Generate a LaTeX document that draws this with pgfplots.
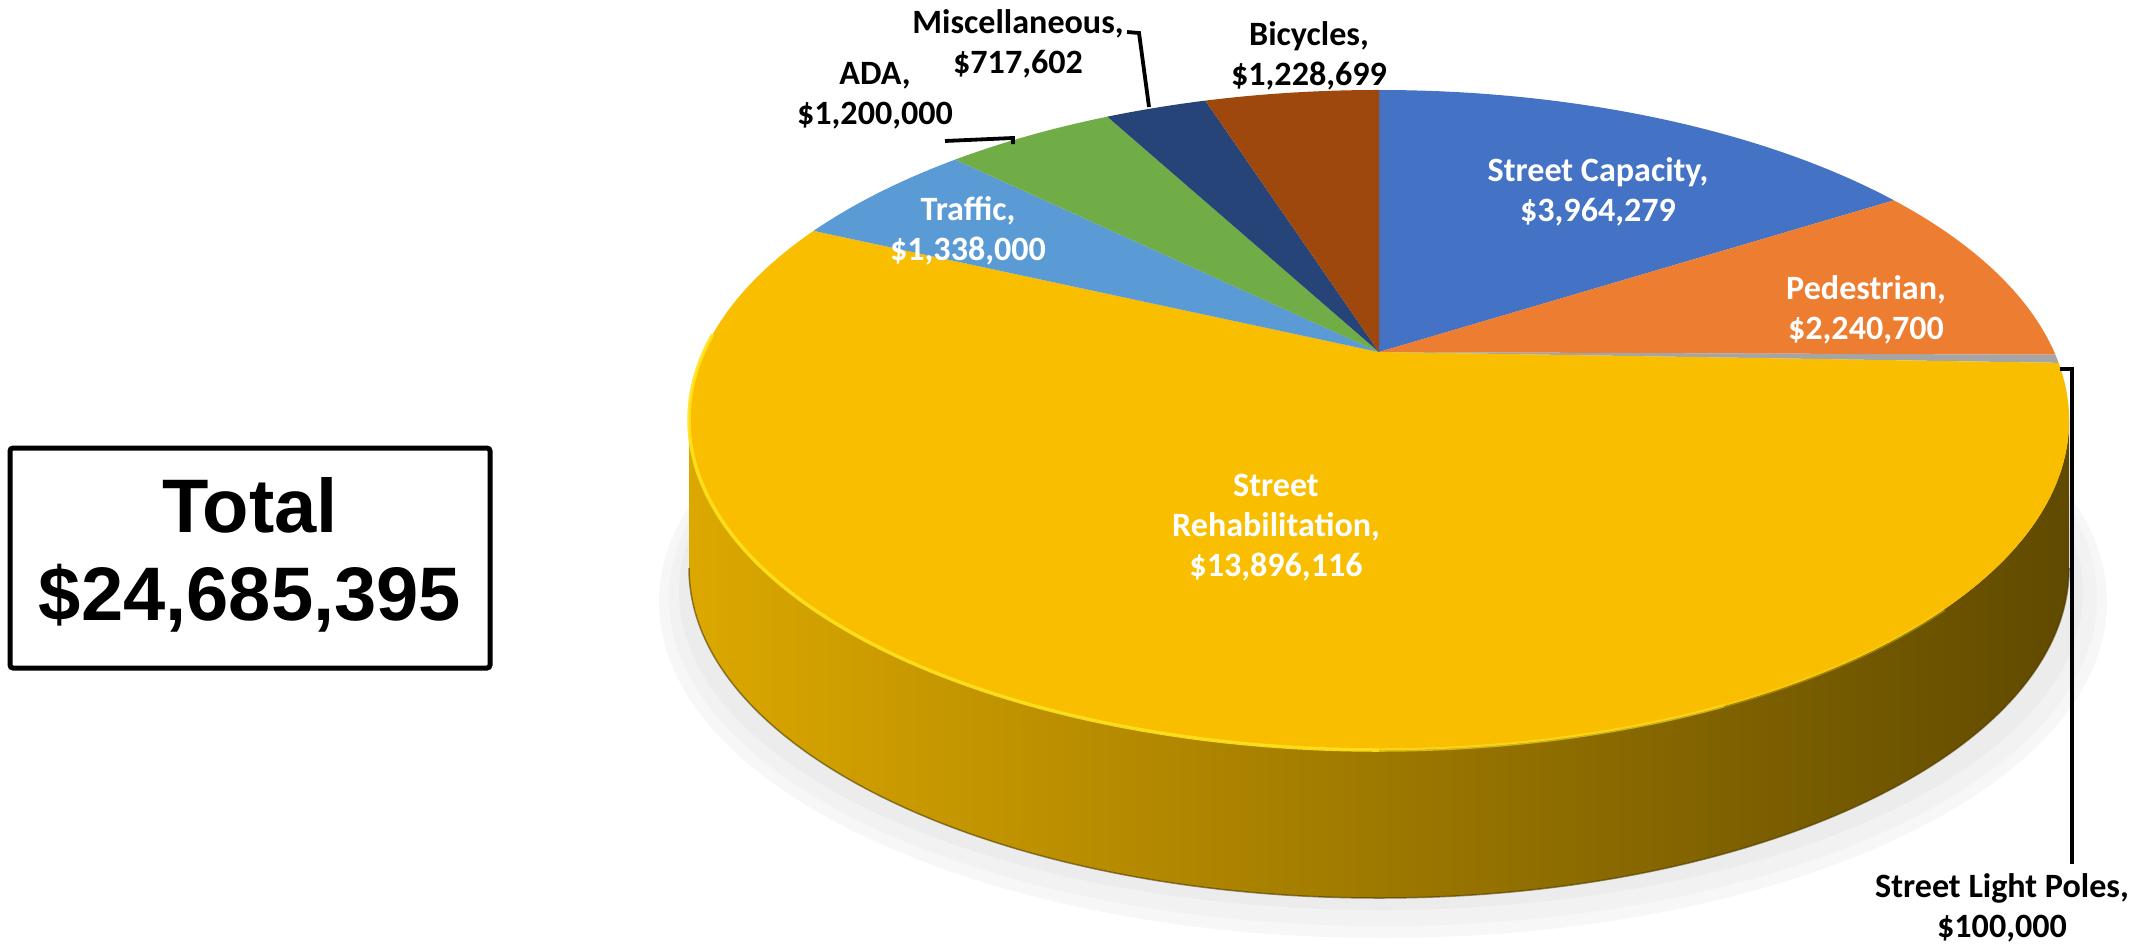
\documentclass[border=0pt]{standalone}
\usepackage{fontspec}
\setmainfont{Carlito}
\newfontfamily\arialfont{Liberation Sans}
\usepackage{pgfplots}
\usepackage{pgfplotstable}
\pgfplotsset{compat=1.18}

% slices, clockwise from 12 o'clock
\pgfplotstableread{
value
3964279
2240700
100000
13896116
1338000
1200000
717602
1228699
}\piedata

\definecolor{pie0}{HTML}{4472C4}
\definecolor{pie1}{HTML}{ED7D31}
\definecolor{pie2}{HTML}{A5A5A5}
\definecolor{pie3}{HTML}{F9BE00}
\definecolor{pie4}{HTML}{5B9BD5}
\definecolor{pie5}{HTML}{70AD47}
\definecolor{pie6}{HTML}{264478}
\definecolor{pie7}{HTML}{9E480E}
\definecolor{sideL}{RGB}{220,168,0}
\definecolor{sideM}{RGB}{158,120,0}
\definecolor{sideR}{RGB}{96,74,0}
\definecolor{rim}{RGB}{255,226,30}

% tilted pie, axis units = pixels
\def\cx{1379}\def\cy{528}\def\rx{690}\def\ry{330}\def\pk{0.206}
\edef\apy{\fpeval{round(\cy+\ry*\pk,2)}}

% cumulative angles (l3fp, the values are large)
\def\pietotal{0}
\pgfplotsforeachungrouped \i in {0,...,7}{%
  \pgfplotstablegetelem{\i}{value}\of\piedata
  \edef\pietotal{\fpeval{\pietotal+\pgfplotsretval}}}
\def\piecum{0}
\pgfplotsforeachungrouped \i in {0,...,7}{%
  \pgfplotstablegetelem{\i}{value}\of\piedata
  \edef\piecum{\fpeval{\piecum+\pgfplotsretval}}%
  \expandafter\xdef\csname th\the\numexpr\i+1\relax\endcsname{\fpeval{round(\piecum/\pietotal*360,4)}}}
\expandafter\def\csname th0\endcsname{0}

% slice boundaries -> parametric angle on the drawn ellipse
\pgfplotsforeachungrouped \j in {0,...,8}{%
  \edef\thv{\csname th\j\endcsname}%
  \edef\ct{\fpeval{cosd(\thv)}}%
  \edef\st{\fpeval{sind(\thv)}}%
  \edef\tv{\fpeval{atand((\ct+\pk)/(1+\pk*\ct), sqrt(1-\pk*\pk)*\st/(1+\pk*\ct))}}%
  \expandafter\xdef\csname tt\j\endcsname{\fpeval{round(\tv>90.001 ? \tv-360 : \tv, 4)}}}
\expandafter\def\csname tt0\endcsname{90}
\expandafter\def\csname tt8\endcsname{-270}
\pgfplotsforeachungrouped \j in {0,...,8}{%
  \edef\tv{\csname tt\j\endcsname}%
  \expandafter\xdef\csname px\j\endcsname{\fpeval{round(\cx+\rx*cosd(\tv),3)}}%
  \expandafter\xdef\csname py\j\endcsname{\fpeval{round(\cy+\ry*sind(\tv),3)}}}

\tikzset{
  lbl/.style={align=center, font={\fontsize{9.7}{11.4}\selectfont\bfseries}},
  inlbl/.style={lbl, text=white},
  lead/.style={line width=0.38mm, black},
  rimarc/.style={rim, line width=0.35mm}
}

\begin{document}
\begin{tikzpicture}
\begin{axis}[
  x=0.1mm, y=0.1mm,
  xmin=0, xmax=2141, ymin=0, ymax=948,
  hide axis, clip=false, scale only axis
]
\path (axis cs:0,0) coordinate (bl) (axis cs:2141,948) coordinate (tr);

% soft shadow
\fill[gray!6] (axis cs:1383,346) ellipse [x radius=72.4mm, y radius=33.6mm];
\fill[gray!10] (axis cs:1383,350) ellipse [x radius=71.4mm, y radius=32.8mm];
\fill[gray!15] (axis cs:1381,356) ellipse [x radius=70.2mm, y radius=31.8mm];

% side wall (front half is all Street Rehabilitation)
\shade[left color=sideL, middle color=sideM, right color=sideR]
  (axis cs:689,528) arc [start angle=180, end angle=360, x radius=69mm, y radius=33mm]
  -- (axis cs:2069,380) arc [start angle=0, end angle=-180, x radius=69mm, y radius=33mm]
  -- cycle;
\draw[sideR!80!black, line width=0.15mm, opacity=0.6]
  (axis cs:689,380) arc [start angle=180, end angle=360, x radius=69mm, y radius=33mm];

% top face slices
\pgfplotsinvokeforeach{0,...,7}{
  \edef\temp{\noexpand\fill[pie#1] (axis cs:\cx,\apy)
    -- (axis cs:\csname px#1\endcsname,\csname py#1\endcsname)
    arc [start angle=\csname tt#1\endcsname,
         end angle=\csname tt\the\numexpr#1+1\relax\endcsname,
         x radius=69mm, y radius=33mm] -- cycle;}
  \temp
}

% rim highlight, fading to the right
\draw[rimarc, opacity=0.9]
  (axis cs:712.5,613.4) arc [start angle=165, end angle=270, x radius=69mm, y radius=33mm];
\draw[rimarc, opacity=0.6]
  (axis cs:1379,198) arc [start angle=270, end angle=300, x radius=69mm, y radius=33mm];
\draw[rimarc, opacity=0.3]
  (axis cs:1724,242.2) arc [start angle=300, end angle=325, x radius=69mm, y radius=33mm];

% leader lines
\draw[lead] (axis cs:1127,916) -- (axis cs:1139,915) -- (axis cs:1149,841);
\draw[lead] (axis cs:945,807) -- (axis cs:1013,810) -- (axis cs:1013,804);
\draw[lead] (axis cs:2060,579) -- (axis cs:2072,579) -- (axis cs:2072,84);

% data labels
\node[inlbl] at (axis cs:1598,756) {Street Capacity,\\\$3,964,279};
\node[inlbl] at (axis cs:1866,638) {Pedestrian,\\\$2,240,700};
\node[inlbl] at (axis cs:1276,420) {Street\\Rehabilitation,\\\$13,896,116};
\node[inlbl] at (axis cs:968,717) {Traffic,\\\$1,338,000};
\node[lbl] at (axis cs:875,852) {ADA,\\\$1,200,000};
\node[lbl] at (axis cs:1018,904) {Miscellaneous,\\\$717,602};
\node[lbl] at (axis cs:1309,892) {Bicycles,\\\$1,228,699};
\node[lbl] at (axis cs:2002,40) {Street Light Poles,\\\$100,000};

% total box
\draw[line width=0.5mm, rounded corners=0.3mm] (axis cs:10,280) rectangle (axis cs:490,500);
\node[anchor=base, font={\arialfont\fontsize{21.6}{26}\selectfont\bfseries}] at (axis cs:250,416) {Total};
\node[anchor=base, font={\arialfont\fontsize{21.6}{26}\selectfont\bfseries}] at (axis cs:250,328) {\$24,685,395};
\end{axis}
\pgfresetboundingbox
\path (bl) rectangle (tr);
\end{tikzpicture}
\end{document}
